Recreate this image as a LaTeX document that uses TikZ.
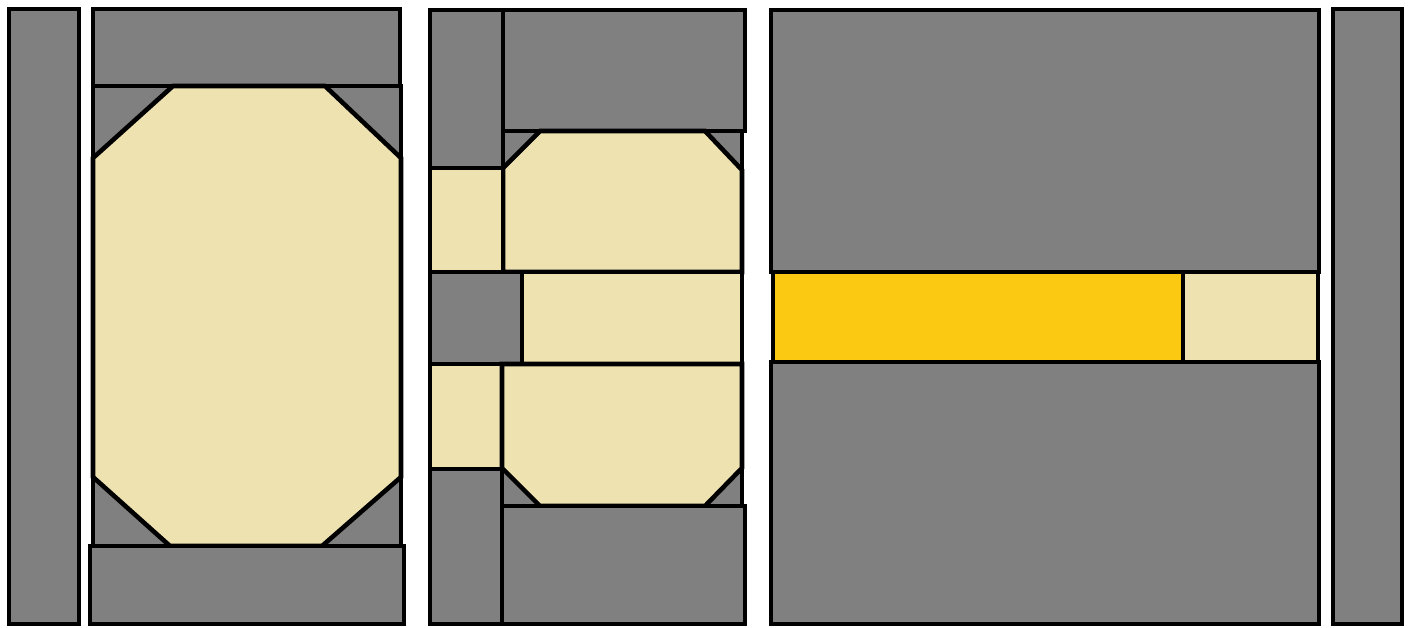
\documentclass[tikz,border=0pt]{standalone}
\usepackage{tikz}
\definecolor{wallgray}{HTML}{808080}
\definecolor{sandtan}{HTML}{EEE3B0}
\definecolor{goldfill}{HTML}{FCC912}
\tikzset{
  graybox/.style={draw=black, fill=wallgray, line width=1.3pt, line join=miter},
  tanbox/.style={draw=black, fill=sandtan, line width=1.3pt, line join=miter},
  goldbox/.style={draw=black, fill=goldfill, line width=1.3pt}
}

\begin{document}
\begin{tikzpicture}[x=0.01cm, y=-0.01cm]
\useasboundingbox (0,0) rectangle (1410,627);
% left group
\path[graybox] (9,9) rectangle (79,624);
\path[graybox] (93,9) rectangle (400,86);
\path[graybox] (93,86) rectangle (401,546);
\path[tanbox] (93,158) -- (173,86) -- (325,86) -- (401,158) -- (401,477)
  -- (322,546) -- (170,546) -- (93,477) -- cycle;
\path[graybox] (90,546) rectangle (404,624);
% middle group
\path[graybox] (430,10) rectangle (503,168);
\path[graybox] (503,10) rectangle (745,131);
\path[graybox] (503,131) rectangle (742,272);
\path[tanbox] (503,168) -- (540,131) -- (705,131) -- (742,170) -- (742,272)
  -- (503,272) -- cycle;
\path[tanbox] (430,168) rectangle (503,272);
\path[graybox] (430,272) rectangle (522,364);
\path[tanbox] (522,272) rectangle (742,364);
\path[tanbox] (430,364) rectangle (502,469);
\path[graybox] (502,364) rectangle (742,506);
\path[tanbox] (502,364) -- (742,364) -- (742,468) -- (705,506) -- (540,506)
  -- (502,468) -- cycle;
\path[graybox] (430,469) rectangle (502,624);
\path[graybox] (502,506) rectangle (745,624);
% right group
\path[graybox] (771,10) rectangle (1319,272);
\path[goldbox] (773,272) rectangle (1183,362);
\path[tanbox] (1183,272) rectangle (1318,362);
\path[graybox] (771,362) rectangle (1319,624);
\path[graybox] (1333,9) rectangle (1402,624);
\end{tikzpicture}
\end{document}
